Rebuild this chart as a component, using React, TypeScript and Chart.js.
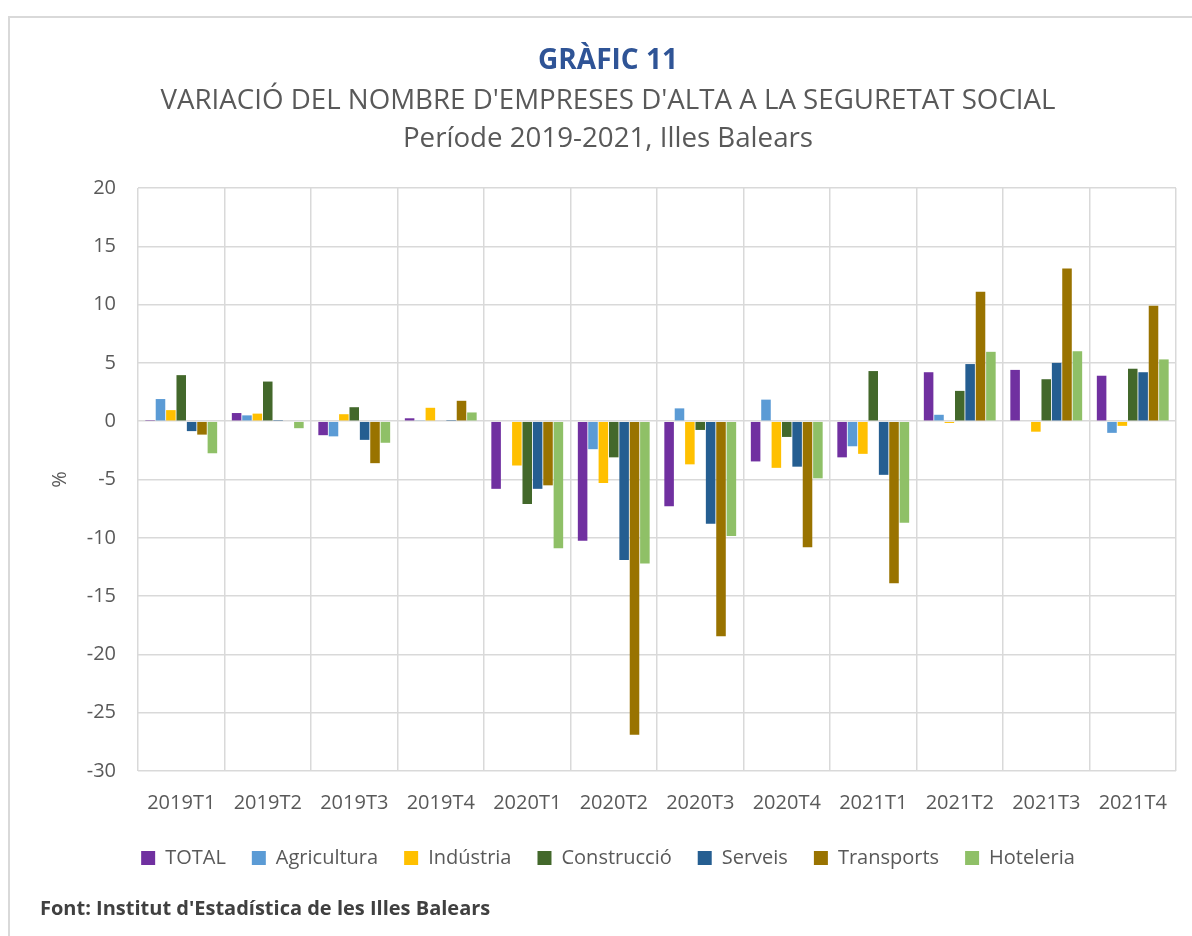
import React, { useEffect, useRef } from "react";
import { Chart, registerables } from "chart.js";

Chart.register(...registerables);

const categories = ["2019T1", "2019T2", "2019T3", "2019T4", "2020T1", "2020T2", "2020T3", "2020T4", "2021T1", "2021T2", "2021T3", "2021T4"];
const total = [0.1, 0.7, -1.2, 0.25, -5.8, -10.25, -7.3, -3.45, -3.1, 4.2, 4.4, 3.9];
const agricultura = [1.9, 0.5, -1.3, 0.05, 0, -2.4, 1.1, 1.85, -2.15, 0.55, 0, -1.0];
const industria = [0.95, 0.65, 0.6, 1.15, -3.8, -5.3, -3.7, -4.0, -2.8, -0.15, -0.9, -0.4];
const construccio = [3.95, 3.4, 1.2, 0, -7.1, -3.1, -0.75, -1.35, 4.3, 2.6, 3.6, 4.5];
const serveis = [-0.85, 0.1, -1.6, 0.1, -5.8, -11.9, -8.8, -3.9, -4.6, 4.9, 5.0, 4.2];
const transports = [-1.15, 0, -3.6, 1.75, -5.5, -26.9, -18.45, -10.8, -13.9, 11.1, 13.1, 9.9];
const hoteleria = [-2.75, -0.6, -1.85, 0.75, -10.9, -12.2, -9.85, -4.9, -8.7, 5.95, 6.0, 5.3];

const seriesNames = ["TOTAL", "Agricultura", "Indústria", "Construcció", "Serveis", "Transports", "Hoteleria"];
const seriesColors = ["#7030A0", "#5B9BD5", "#FFC000", "#43682B", "#255E91", "#997300", "#8FC067"];
const seriesValues = [total, agricultura, industria, construccio, serveis, transports, hoteleria];

const FONT = "'Open Sans', 'Noto Sans', sans-serif";

export default function App() {
  const ref = useRef<HTMLCanvasElement | null>(null);

  useEffect(() => {
    if (!ref.current) return;
    const chart = new Chart(ref.current, {
      type: "bar",
      data: {
        labels: categories,
        datasets: seriesNames.map((name, i) => ({
          label: name,
          data: seriesValues[i],
          backgroundColor: seriesColors[i],
          borderWidth: 0,
          categoryPercentage: 0.84,
          barPercentage: 0.92,
        })),
      },
      options: {
        responsive: false,
        animation: false,
        layout: { padding: { top: 188, left: 40, right: 16, bottom: 58 } },
        plugins: {
          title: { display: false },
          tooltip: { enabled: false },
          legend: {
            position: "bottom",
            labels: {
              boxWidth: 14,
              boxHeight: 14,
              padding: 26,
              color: "#595959",
              font: { family: FONT, size: 20 },
            },
          },
        },
        scales: {
          x: {
            grid: { color: "#d9d9d9", lineWidth: 1.5, offset: true, drawTicks: false },
            border: { display: false },
            ticks: { color: "#595959", font: { family: FONT, size: 20 }, padding: 20, maxRotation: 0 },
            afterFit: (s: any) => { s.height = 51; },
          },
          y: {
            min: -30,
            max: 20,
            grid: { color: "#d9d9d9", lineWidth: 1.5, drawTicks: false },
            border: { display: false },
            ticks: { stepSize: 5, color: "#595959", font: { family: FONT, size: 20 }, padding: 22 },
            title: { display: true, text: "%", color: "#595959", font: { family: FONT, size: 20 }, padding: 8 },
            afterFit: (s: any) => { s.width = 98; },
          },
        },
      },
    });
    return () => chart.destroy();
  }, []);

  return (
    <div style={{ position: "fixed", left: 0, top: 0, width: 1192, height: 936, background: "#fff", overflow: "hidden", fontFamily: FONT }}>
      <div style={{ position: "absolute", left: 8, top: 16, width: 1200, height: 940, border: "2px solid #d9d9d9", boxSizing: "border-box" }} />
      <canvas ref={ref} width={1192} height={936} style={{ position: "absolute", left: 0, top: 0 }} />
      <div style={{ position: "absolute", left: 0, width: 1216, top: 38, textAlign: "center", color: "#2F5496", fontWeight: 700, fontSize: 28, lineHeight: "40px" }}>GRÀFIC 11</div>
      <div style={{ position: "absolute", left: 0, width: 1216, top: 78, textAlign: "center", color: "#595959", fontSize: 27.7, lineHeight: "40px" }}>VARIACIÓ DEL NOMBRE D'EMPRESES D'ALTA A LA SEGURETAT SOCIAL</div>
      <div style={{ position: "absolute", left: 0, width: 1216, top: 116, textAlign: "center", color: "#595959", fontSize: 27.7, lineHeight: "40px" }}>Període 2019-2021, Illes Balears</div>
      <div style={{ position: "absolute", left: 40, top: 896, color: "#404040", fontWeight: 700, fontSize: 20, lineHeight: "24px" }}>Font: Institut d'Estadística de les Illes Balears</div>
    </div>
  );
}
